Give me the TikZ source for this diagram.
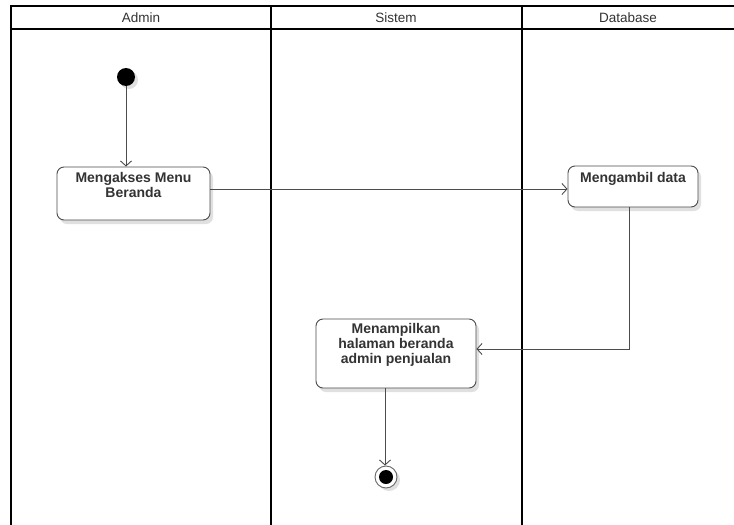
\documentclass[tikz,border=0pt]{standalone}
\usepackage{fontspec}
\setmainfont{Liberation Sans}
\usetikzlibrary{arrows.meta,shadows}
\begin{document}
\begin{tikzpicture}[x=1pt,y=-1pt,
  lane/.style={line width=1.4pt, draw=black},
  head/.style={font=\fontsize{13.5}{15}\selectfont, text=black!80, inner sep=0pt},
  act/.style={draw=black!70, line width=0.9pt, rounded corners=7pt, fill=white, inner sep=0pt,
     drop shadow={shadow xshift=3pt, shadow yshift=-4pt, fill=black!12, opacity=1}},
  acttext/.style={align=center, font=\bfseries\fontsize{14}{15}\selectfont, text=black!80, inner sep=0pt, anchor=north},
  flow/.style={draw=black!70, line width=0.9pt, -{Straight Barb[length=5pt,width=11pt]}},
  startnode/.style={circle, fill=black, minimum size=18pt, inner sep=0pt,
     drop shadow={shadow xshift=3pt, shadow yshift=-3pt, fill=black!12, opacity=1}},
  endouter/.style={circle, draw=black!60, line width=0.9pt, fill=white, minimum size=22pt, inner sep=0pt,
     drop shadow={shadow xshift=3pt, shadow yshift=-3pt, fill=black!12, opacity=1}},
  endinner/.style={circle, fill=black, minimum size=14pt, inner sep=0pt}]
\useasboundingbox (0,0) rectangle (734,525);
\fill[white] (0,0) rectangle (734,525);
% swimlanes
\draw[lane] (734,6) -- (11,6) -- (11,525);
\draw[lane] (11,29) -- (734,29);
\draw[lane] (271,6) -- (271,525);
\draw[lane] (522,6) -- (522,525);
\node[head] (hA) at (141,18) {Admin};
\node[head] (hS) at (396,18) {Sistem};
\node[head] (hD) at (628,18) {Database};
% nodes
\node[startnode] (init) at (126,77) {};
\node[act, minimum width=153pt, minimum height=53pt] (m1) at (133.5,193.5) {};
\node[acttext] (t1) at ([yshift=-6pt]m1.north) {Mengakses Menu\\Beranda};
\node[act, minimum width=130pt, minimum height=41pt] (m2) at (633,186.5) {};
\node[acttext] (t2) at ([yshift=-7pt]m2.north) {Mengambil data};
\node[act, minimum width=160pt, minimum height=69pt] (m3) at (396,353.5) {};
\node[acttext] (t3) at ([yshift=-5pt]m3.north) {Menampilkan\\halaman beranda\\admin penjualan};
\node[endouter] (fin) at (386,477) {};
\node[endinner] (finin) at (fin.center) {};
% helper coordinates
\coordinate (y1) at (0,189);
\coordinate (x2) at (629,0);
\coordinate (y3) at (0,349);
\coordinate (x3) at (385,0);
% connectors
\draw[flow] (init.south) -- (init.south |- m1.north);
\draw[flow] (m1.east |- y1) -- (m2.west |- y1);
\draw[flow] (m2.south -| x2) |- (m3.east |- y3);
\draw[flow] (m3.south -| x3) -- (x3 |- fin.north);
\end{tikzpicture}
\end{document}
